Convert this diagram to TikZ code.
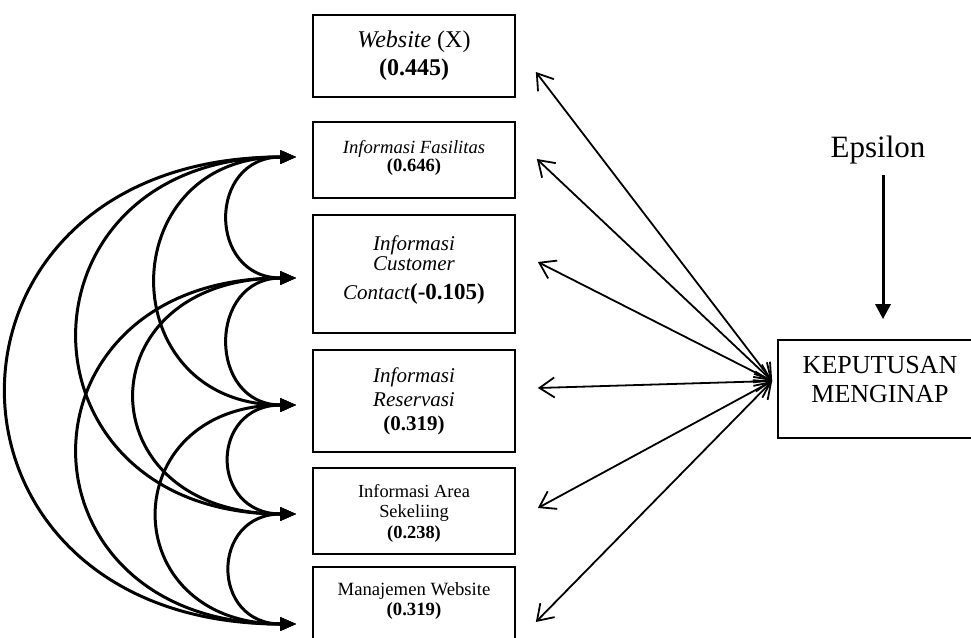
\documentclass[tikz,border=0pt]{standalone}
\usepackage{fontspec}
\setmainfont{Liberation Serif}
\usetikzlibrary{arrows.meta}
\newcommand\fsz[2]{\fontsize{#1}{#2}\selectfont}
\newcommand\stk[1]{\begin{tabular}[t]{@{}c@{}}#1\end{tabular}}
\begin{document}
\begin{tikzpicture}[x=1pt,y=-1pt,
  box/.style={draw, line width=1.7pt, inner sep=0pt, minimum width=202pt},
  lbl/.style={inner sep=0pt, anchor=base},
  link/.style={line width=1.8pt, {Straight Barb[length=15pt,width=20pt]}-{Straight Barb[length=15pt,width=20pt]}},
  corr/.style={line width=3pt, {Triangle[length=16pt,width=13pt]}-{Triangle[length=16pt,width=13pt]}},
  eparrow/.style={line width=3pt, -{Triangle[length=15pt,width=15pt]}}
]
\useasboundingbox (0,0) rectangle (971,637);
% boxes
\node[box, minimum height=82pt]  (b1) at (414,56) {};
\node[box, minimum height=76pt]  (b2) at (414,160) {};
\node[box, minimum height=118pt] (b3) at (414,274) {};
\node[box, minimum height=102pt] (b4) at (414,401) {};
\node[box, minimum height=86pt]  (b5) at (414,511) {};
\node[box, minimum height=90pt]  (b6) at (414,612) {};
\node[box, minimum width=204pt, minimum height=98pt] (kep) at (880,389) {};
% texts
\node[lbl] (t1) at (414,47) {\fsz{24}{28}\stk{\textit{Website} (X)\\\textbf{(0.445)}}};
\node[lbl] (t2) at (414,153) {\fsz{18.6}{18}\stk{\textit{Informasi Fasilitas}\\\textbf{(0.646)}}};
\node[lbl] (t3) at (414,250) {\fsz{21}{20}\stk{\textit{Informasi}\\\textit{Customer}\\[8pt]\textit{Contact}{\fsz{23}{20}\textbf{(-0.105)}}}};
\node[lbl] (t4) at (414,382) {\fsz{21}{24}\stk{\textit{Informasi}\\\textit{Reservasi}\\\textbf{(0.319)}}};
\node[lbl] (t5) at (414,497) {\fsz{18.4}{20.5}\stk{Informasi Area\\Sekeliing\\\textbf{(0.238)}}};
\node[lbl] (t6) at (414,595) {\fsz{18.7}{20}\stk{Manajemen Website\\\textbf{(0.319)}}};
\node[lbl] (tk) at (880,373) {\fsz{26}{29}\stk{KEPUTUSAN\\MENGINAP}};
\node[lbl] (eps) at (878,157) {\fsz{31}{36}Epsilon};
% epsilon arrow
\coordinate (et) at ([shift={(5,18)}]eps.base);
\draw[eparrow, shorten >=20pt] (et) -- (et |- kep.north);
% right connectors
\coordinate (hub) at ([shift={(-5,-8)}]kep.west);
\coordinate (r1) at ([shift={(20,16)}]b1.east);
\coordinate (r2) at ([shift={(21,-1)}]b2.east);
\coordinate (r3) at ([shift={(22,-12)}]b3.east);
\coordinate (r4) at ([shift={(22,-13)}]b4.east);
\coordinate (r5) at ([shift={(22,-3)}]b5.east);
\coordinate (r6) at ([shift={(20,10)}]b6.east);
\foreach \i in {1,...,6} {\draw[link] (r\i) -- (hub);}
% left correlation arcs
\coordinate (l2) at ([shift={(-16,-3)}]b2.west);
\coordinate (l3) at ([shift={(-16,4)}]b3.west);
\coordinate (l4) at ([shift={(-16,4)}]b4.west);
\coordinate (l5) at ([shift={(-16,3)}]b5.west);
\coordinate (l6) at ([shift={(-16,12)}]b6.west);
\draw[corr] (l2) .. controls +(-89,0) and +(-89,0) .. (l3);
\draw[corr] (l3) .. controls +(-89,0) and +(-89,0) .. (l4);
\draw[corr] (l4) .. controls +(-87,0) and +(-87,0) .. (l5);
\draw[corr] (l5) .. controls +(-86,0) and +(-86,0) .. (l6);
\draw[corr] (l2) .. controls +(-185,0) and +(-185,0) .. (l4);
\draw[corr] (l3) .. controls +(-213,0) and +(-213,0) .. (l5);
\draw[corr] (l4) .. controls +(-183,0) and +(-183,0) .. (l6);
\draw[corr] (l2) .. controls +(-289,0) and +(-289,0) .. (l5);
\draw[corr] (l3) .. controls +(-289,0) and +(-289,0) .. (l6);
\draw[corr] (l2) .. controls +(-384,0) and +(-384,0) .. (l6);
\end{tikzpicture}
\end{document}
